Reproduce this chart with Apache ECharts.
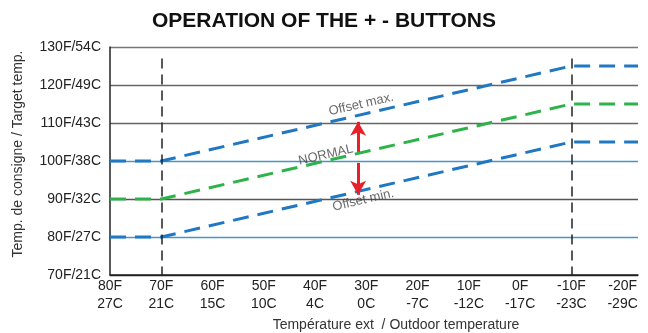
<!DOCTYPE html>
<html>
<head>
<meta charset="utf-8">
<script src="https://cdn.jsdelivr.net/npm/echarts@6/dist/echarts.min.js"></script>
<style>
  html, body { margin: 0; padding: 0; background: #fff; }
  #chart { width: 648px; height: 333px; }
</style>
</head>
<body>
<div id="chart"></div>
<script>
// outdoor temperature (F) break points of the curves
var outdoorF = [80, 70, -10, -23];
var offsetMax = [100, 100, 125, 125];
var normal = [90, 90, 115, 115];
var offsetMin = [80, 80, 105, 105];

// tick labels
var xTicksF = [80, 70, 60, 50, 40, 30, 20, 10, 0, -10, -20];
var xLabelsF = ['80F', '70F', '60F', '50F', '40F', '30F', '20F', '10F', '0F', '-10F', '-20F'];
var xLabelsC = ['27C', '21C', '15C', '10C', '4C', '0C', '-7C', '-12C', '-17C', '-23C', '-29C'];
var yTicks = [70, 80, 90, 100, 110, 120, 130];
var yLabels = ['70F/21C', '80F/27C', '90F/32C', '100F/38C', '110F/43C', '120F/49C', '130F/54C'];

// limits of the heating curve (vertical dashed lines)
var limitsF = [70, -10];

// annotations: [x (F), y (F), text]
var notes = [
  [31.0, 114.9, 'Offset max.'],
  [37.9, 101.6, 'NORMAL'],
  [30.6, 89.7, 'Offset min.']
];
// red arrows: [x, from y, to y]
var arrows = [
  [31.6, 102.4, 110.3],
  [31.6, 99.5, 91.1]
];

var blue = '#1f78c1';
var green = '#2db34a';
var font = 'Liberation Sans, Arial, sans-serif';

function pairs(ys) {
  return outdoorF.map(function (x, i) { return [x, ys[i]]; });
}

var chart = echarts.init(document.getElementById('chart'));

var dashLine = { type: [16, 9], width: 3 };

chart.setOption({
  animation: false,
  title: {
    text: 'OPERATION OF THE + - BUTTONS',
    left: 'center',
    top: 6,
    textStyle: { fontSize: 21, fontWeight: 'bold', color: '#111', fontFamily: font }
  },
  grid: { left: 110, right: 10, top: 47, bottom: 58, outerBoundsMode: 'none' },
  xAxis: {
    type: 'value',
    inverse: true,
    min: -23,
    max: 80,
    name: 'Température ext  / Outdoor temperature',
    nameLocation: 'middle',
    nameGap: 38,
    nameTextStyle: { fontSize: 14, color: '#333', fontFamily: font, padding: [0, 0, 0, 44] },
    axisLine: { onZero: false, lineStyle: { color: '#222', width: 1.5 } },
    axisTick: { show: false },
    splitLine: { show: false },
    axisLabel: {
      customValues: xTicksF,
      margin: 2,
      fontSize: 14,
      lineHeight: 18,
      color: '#222',
      fontFamily: font,
      formatter: function (v) {
        var i = xTicksF.indexOf(v);
        return i < 0 ? '' : xLabelsF[i] + '\n' + xLabelsC[i];
      }
    }
  },
  yAxis: {
    type: 'value',
    min: 70,
    max: 130,
    interval: 10,
    name: 'Temp. de consigne / Target temp.',
    nameLocation: 'middle',
    nameGap: 85,
    nameTextStyle: { fontSize: 14, color: '#333', fontFamily: font, padding: [0, 0, 0, 14] },
    axisLine: { show: true, onZero: false, lineStyle: { color: '#222', width: 1.5 } },
    axisTick: { show: false },
    axisLabel: {
      margin: 9,
      fontSize: 14,
      color: '#222',
      fontFamily: font,
      formatter: function (v) {
        var i = yTicks.indexOf(v);
        return i < 0 ? '' : yLabels[i];
      }
    },
    splitLine: {
      lineStyle: {
        color: ['#222', '#4a93cc', '#555', '#4a93cc', '#666', '#666', '#777'],
        width: 1.3
      }
    }
  },
  series: [
    {
      type: 'line',
      data: pairs(offsetMax),
      symbol: 'none',
      lineStyle: Object.assign({ color: blue }, dashLine),
      z: 3,
      markLine: {
        silent: true,
        symbol: 'none',
        label: { show: false },
        lineStyle: { color: '#222', width: 1.5, type: [10, 6] },
        data: limitsF.map(function (x) {
          return [{ coord: [x, 127] }, { coord: [x, 70] }];
        })
      }
    },
    {
      type: 'line',
      data: pairs(normal),
      symbol: 'none',
      lineStyle: Object.assign({ color: green }, dashLine),
      z: 3
    },
    {
      type: 'line',
      data: pairs(offsetMin),
      symbol: 'none',
      lineStyle: Object.assign({ color: blue }, dashLine),
      z: 3
    },
    {
      type: 'scatter',
      symbolSize: 0,
      z: 5,
      data: notes.map(function (n) { return { value: [n[0], n[1]], name: n[2] }; }),
      label: {
        show: true,
        position: 'inside',
        rotate: 13,
        formatter: '{b}',
        fontSize: 13,
        color: '#444',
        fontFamily: font
      },
      markLine: {
        silent: true,
        symbol: ['none', 'arrow'],
        symbolSize: [12, 14],
        label: { show: false },
        lineStyle: { color: '#e8202a', width: 3, type: 'solid' },
        data: arrows.map(function (a) {
          return [{ coord: [a[0], a[1]] }, { coord: [a[0], a[2]] }];
        })
      }
    }
  ]
});
</script>
</body>
</html>
